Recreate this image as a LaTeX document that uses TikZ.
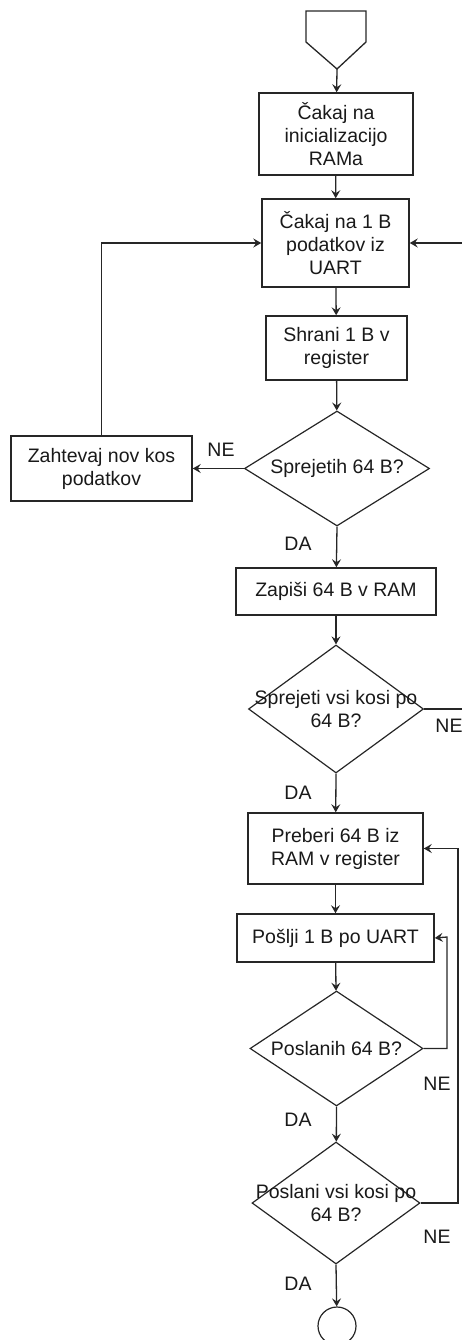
\documentclass[tikz,border=0pt]{standalone}
\usepackage{fontspec}
\setmainfont{Liberation Sans}
\usetikzlibrary{arrows.meta,shapes.geometric}
\definecolor{ln}{HTML}{262626}
\tikzset{
  flow/.style={-{Stealth[length=8pt, width=9pt, inset=3pt]}, line width=1.3pt, ln},
  link/.style={line width=1.3pt, ln},
  txt/.style={font=\fontsize{19.5}{23}\selectfont, align=center, text=black!90},
  proc/.style={txt, draw=ln, line width=1.5pt, inner sep=0pt},
  decision/.style={diamond, draw=ln, line width=1.2pt, inner sep=0pt},
  ynlab/.style={txt, inner sep=0pt},
}

\begin{document}
\begin{tikzpicture}[x=1pt,y=-1pt]
\useasboundingbox (0,0) rectangle (462,1340);
\clip (0,0) rectangle (462,1340);

% ===================== receive part =========================================
\draw[link] (306,11) -- (366,11) -- (366,42) -- (337,69) -- (306,42) -- cycle;
\coordinate (start) at (337,69);
\node[proc, minimum width=154pt, minimum height=82pt] (init) at (336,134)
  {Čakaj na\\inicializacijo\\RAMa};
\node[proc, minimum width=147pt, minimum height=88pt] (waitb) at (335.5,243)
  {Čakaj na 1 B\\podatkov iz\\UART};
\node[proc, minimum width=141pt, minimum height=64pt] (store) at (336.5,348)
  {Shrani 1 B v\\register};
\node[decision, minimum width=185pt, minimum height=115pt] (got64) at (337,468.5) {};
\node[txt] (got64t) at (got64) {Sprejetih 64 B?};
\node[proc, minimum width=181pt, minimum height=65pt] (req) at (101.5,468.5)
  {Zahtevaj nov kos\\podatkov};
\node[proc, minimum width=200pt, minimum height=47pt] (wram) at (336,591.5)
  {Zapiši 64 B v RAM};
\node[decision, minimum width=175pt, minimum height=128pt] (gotall) at (336,709) {};
\node[txt] (gotallt) at (gotall) {Sprejeti vsi kosi po\\64 B?};

\draw[flow] (start) -- (init);
\draw[flow] (init) -- (waitb);
\draw[flow] (waitb) -- (store);
\draw[flow] (store) -- (got64);
\draw[flow] (got64.west) -- (req.east);
\draw[flow] (req.north) |- (waitb.west);
\draw[flow] (got64.south) -- (wram);
\draw[flow] (wram) -- (gotall);
\coordinate (rloop) at (480,243);
\draw[flow] (gotall.east) -| (rloop) -- (waitb.east);

\node[ynlab] (ne1) at (221,450) {NE};
\node[ynlab] (da1) at (298,544) {DA};
\node[ynlab] (ne2) at (449,726) {NE};
\node[ynlab] (da2) at (298,793) {DA};

% ===================== send part ============================================
\node[proc, minimum width=175pt, minimum height=71pt] (rram) at (335.5,848.5)
  {Preberi 64 B iz\\RAM v register};
\node[proc, minimum width=197pt, minimum height=48pt] (send) at (335.5,938)
  {Pošlji 1 B po UART};
\node[decision, minimum width=173pt, minimum height=115pt] (sent64) at (336.5,1048.5) {};
\node[txt] (sent64t) at (sent64) {Poslanih 64 B?};
\node[decision, minimum width=168pt, minimum height=122pt] (sentall) at (336,1203) {};
\node[txt] (sentallt) at (sentall) {Poslani vsi kosi po\\64 B?};
\node[circle, draw=ln, line width=1.2pt, minimum size=38pt, inner sep=0pt] (stop) at (337,1326) {};

\draw[flow] (gotall.south) -- (rram);
\draw[flow] (rram) -- (send);
\draw[flow] (send) -- (sent64);
\coordinate (sloop) at (447,937);
\draw[flow] (sent64.east) -| (sloop) -- (send.east);
\draw[flow] (sent64.south) -- (sentall);
\coordinate (bloop) at (458,848.5);
\draw[flow] (sentall.east) -| (bloop) -- (rram.east);
\draw[flow] (sentall.south) -- (stop);

\node[ynlab] (ne3) at (437,1084) {NE};
\node[ynlab] (da3) at (298,1120) {DA};
\node[ynlab] (ne4) at (437,1237) {NE};
\node[ynlab] (da4) at (298,1284) {DA};

\end{tikzpicture}
\end{document}
